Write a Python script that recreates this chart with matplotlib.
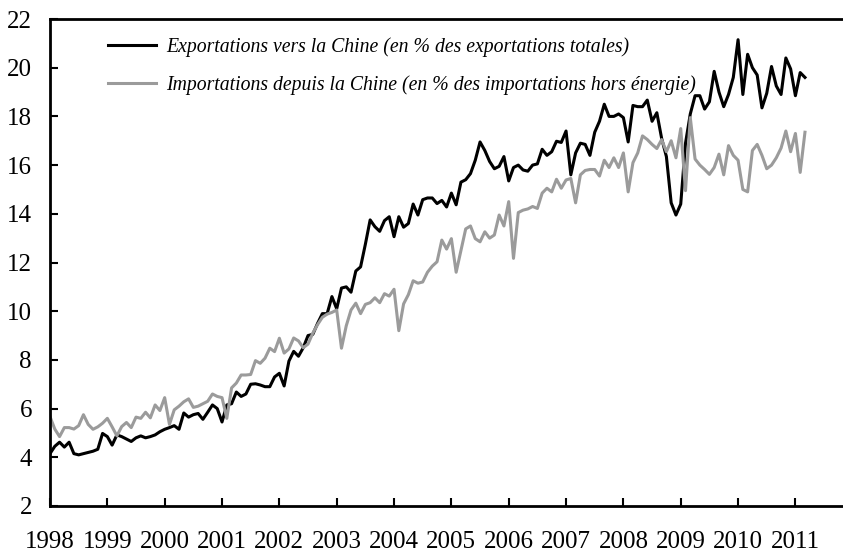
import numpy as np
import matplotlib
matplotlib.use('Agg')
import matplotlib.pyplot as plt

# monthly data, jan 1998 -> mar 2011
exports = [
    4.15, 4.45, 4.62, 4.42, 4.62, 4.15, 4.1, 4.15, 4.2, 4.25, 4.33, 4.98,
    4.85, 4.5, 4.92, 4.85, 4.75, 4.65, 4.8, 4.88, 4.8, 4.85, 4.92, 5.05,
    5.15, 5.22, 5.3, 5.15, 5.82, 5.65, 5.75, 5.8, 5.56, 5.85, 6.15, 6.0,
    5.45, 6.15, 6.2, 6.68, 6.5, 6.6, 7.0, 7.02, 6.97, 6.9, 6.9, 7.3,
    7.45, 6.93, 7.95, 8.35, 8.15, 8.5, 9.0, 9.05, 9.5, 9.9, 9.9, 10.6,
    10.1, 10.95, 11.0, 10.78, 11.65, 11.82, 12.75, 13.75, 13.47, 13.28, 13.72, 13.88,
    13.06, 13.88, 13.45, 13.6, 14.4, 13.95, 14.58, 14.65, 14.65, 14.42, 14.55, 14.28,
    14.85, 14.37, 15.3, 15.4, 15.65, 16.2, 16.95, 16.6, 16.15, 15.85, 15.95, 16.35,
    15.35, 15.9, 16.0, 15.8, 15.75, 16.0, 16.05, 16.65, 16.4, 16.55, 16.98, 16.93,
    17.4, 15.6, 16.5, 16.9, 16.85, 16.4, 17.35, 17.8, 18.5, 18.0, 18.0, 18.1,
    17.95, 16.95, 18.45, 18.4, 18.4, 18.67, 17.8, 18.15, 17.1, 16.35, 14.45, 13.95,
    14.4, 16.9, 18.1, 18.85, 18.85, 18.3, 18.6, 19.85, 19.0, 18.4, 18.9, 19.6,
    21.15, 18.9, 20.55, 20.0, 19.7, 18.35, 18.95, 20.05, 19.25, 18.9, 20.4, 19.95,
    18.85, 19.8, 19.6,
]

imports = [
    5.67, 5.16, 4.85, 5.22, 5.22, 5.16, 5.3, 5.75, 5.35, 5.15, 5.25, 5.4,
    5.6, 5.25, 4.88, 5.26, 5.43, 5.22, 5.65, 5.6, 5.85, 5.62, 6.15, 5.92,
    6.45, 5.35, 5.95, 6.1, 6.28, 6.4, 6.05, 6.1, 6.2, 6.3, 6.6, 6.5,
    6.45, 5.6, 6.85, 7.05, 7.38, 7.38, 7.4, 7.97, 7.86, 8.07, 8.48, 8.34,
    8.89, 8.28, 8.45, 8.9, 8.78, 8.5, 8.65, 9.1, 9.45, 9.75, 9.88, 9.95,
    10.05, 8.48, 9.4, 10.05, 10.33, 9.9, 10.28, 10.35, 10.55, 10.35, 10.72, 10.62,
    10.9, 9.2, 10.3, 10.68, 11.25, 11.15, 11.2, 11.6, 11.85, 12.03, 12.92, 12.55,
    12.98, 11.6, 12.5, 13.38, 13.5, 12.98, 12.85, 13.26, 13.0, 13.13, 13.95, 13.5,
    14.5, 12.17, 14.05, 14.15, 14.2, 14.3, 14.22, 14.85, 15.05, 14.9, 15.42, 15.05,
    15.39, 15.45, 14.45, 15.6, 15.78, 15.82, 15.82, 15.55, 16.2, 15.9, 16.3, 15.9,
    16.5, 14.9, 16.1, 16.5, 17.2, 17.05, 16.85, 16.68, 17.05, 16.55, 17.0, 16.3,
    17.5, 14.95, 17.95, 16.25, 16.0, 15.82, 15.62, 15.9, 16.45, 15.6, 16.8, 16.4,
    16.2, 15.0, 14.9, 16.6, 16.85, 16.4, 15.85, 16.0, 16.3, 16.7, 17.4, 16.55,
    17.3, 15.7, 17.35,
]

years = list(range(1998, 2012))
yticks = list(range(2, 23, 2))

label_exp = 'Exportations vers la Chine (en % des exportations totales)'
label_imp = 'Importations depuis la Chine (en % des importations hors énergie)'

plt.rcParams['font.family'] = ['Liberation Serif', 'DejaVu Serif']

t = 1998 + np.arange(len(exports)) / 12.0

fig = plt.figure(figsize=(8.43, 5.52), dpi=100)
ax = fig.add_axes([50 / 843, 46 / 552, 793 / 843, 487 / 552])

ax.plot(t, exports, color='black', lw=2.2, label=label_exp)
ax.plot(t, imports, color='#9b9b9b', lw=2.2, label=label_imp)

ax.set_xlim(1998, 2011.83)
ax.set_ylim(2, 22)
ax.set_xticks(years)
ax.set_xticklabels([str(y) for y in years])
ax.set_yticks(yticks)

for s in ['left', 'bottom', 'top']:
    ax.spines[s].set_linewidth(2.0)
ax.spines['right'].set_visible(False)

ax.tick_params(axis='both', direction='in', length=6, width=1.5, labelsize=18)
ax.tick_params(axis='y', pad=13)
ax.tick_params(axis='x', pad=18)

leg = ax.legend(loc='upper left', bbox_to_anchor=(0.073, 0.963), frameon=False,
                borderpad=0, borderaxespad=0, handlelength=2.45, handletextpad=0.5,
                labelspacing=0.95, prop={'style': 'italic', 'size': 14.2})

fig.savefig('out.png', dpi=100)
